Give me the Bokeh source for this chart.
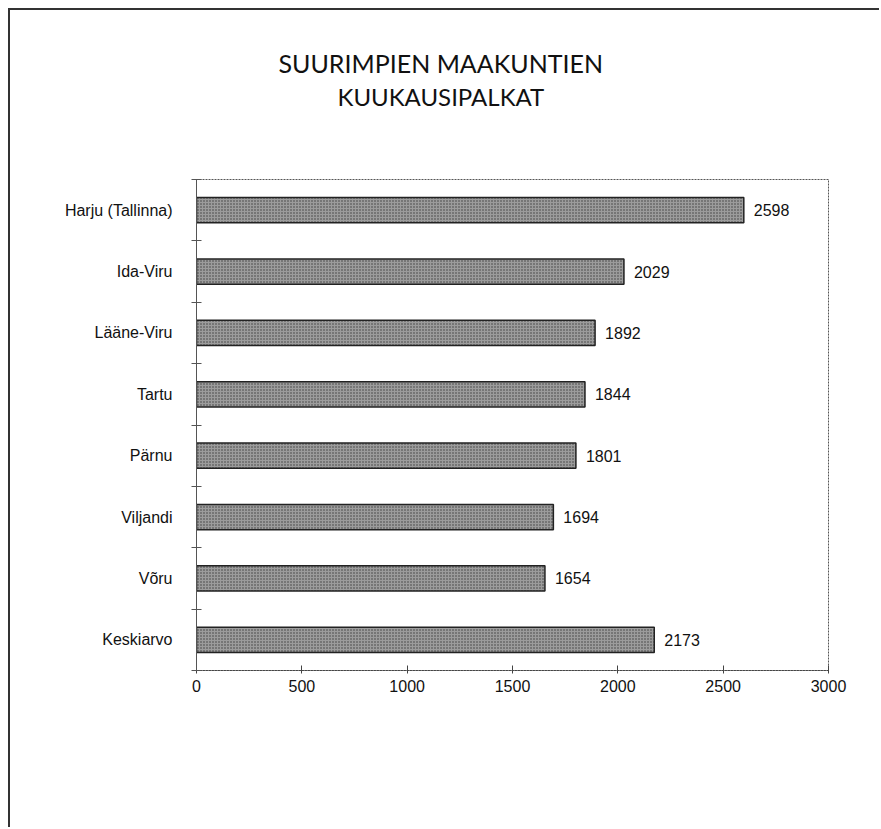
from bokeh.plotting import figure
from bokeh.models import Range1d, FixedTicker, Title
from bokeh.core.properties import value
from bokeh.embed import file_html
from bokeh.resources import INLINE

# Data
regions = ["Harju (Tallinna)", "Ida-Viru", "Lääne-Viru", "Tartu", "Pärnu", "Viljandi", "Võru", "Keskiarvo"]
wages = [2598, 2029, 1892, 1844, 1801, 1694, 1654, 2173]
x_ticks = [0, 500, 1000, 1500, 2000, 2500, 3000]
title_lines = ["SUURIMPIEN MAAKUNTIEN", "KUUKAUSIPALKAT"]

n = len(regions)
pos = list(range(1, n + 1))
bounds = [i + 0.5 for i in range(0, n + 1)]

p = figure(width=871, height=819, output_backend="svg", toolbar_location=None,
           x_range=Range1d(0, 3000), y_range=Range1d(n + 0.5, 0.5),
           min_border_left=186, min_border_right=53, min_border_top=169, min_border_bottom=159)
p.styles = {"border-left": "2px solid #333", "border-top": "2px solid #333",
            "margin-left": "8px", "margin-top": "8px"}
p.background_fill_color = "white"
p.border_fill_color = "white"
p.grid.visible = False
p.outline_line_color = "#555"
p.outline_line_dash = "2 1"
p.outline_line_width = 1

p.hbar(y=pos, left=0, right=wages, height=0.41, fill_color="#9c9c9c",
       hatch_pattern="dot", hatch_color="#3a3a3a", hatch_scale=3, hatch_alpha=1.0,
       line_color="#222", line_width=1.5)

p.text(x=wages, y=pos, text=[str(v) for v in wages], x_offset=10,
       text_baseline="middle", text_align="left",
       text_font=value("Liberation Sans"), text_font_size="16px", text_color="#111")

# x axis
xa = p.xaxis[0]
xa.ticker = FixedTicker(ticks=x_ticks)
xa.major_tick_in = 5
xa.major_tick_out = 3
xa.minor_tick_line_color = None
xa.axis_line_color = "#444"
xa.axis_line_dash = "2 1"
xa.major_tick_line_color = "#444"
xa.major_label_text_font = "Liberation Sans"
xa.major_label_text_font_size = "16px"
xa.major_label_text_color = "#111"
xa.major_label_standoff = 6

# y axis
ya = p.yaxis[0]
ya.ticker = FixedTicker(ticks=pos, minor_ticks=bounds)
ya.major_label_overrides = {pos[i]: regions[i] for i in range(n)}
ya.major_tick_line_color = None
ya.minor_tick_in = 5
ya.minor_tick_out = 5
ya.minor_tick_line_color = "#555"
ya.axis_line_color = "#555"
ya.major_label_text_font = "Liberation Sans"
ya.major_label_text_font_size = "16px"
ya.major_label_text_color = "#111"
ya.major_label_standoff = 18

# spacer between frame and title block
p.add_layout(Title(text=" ", text_font_size="2px", standoff=64), "above")
# Title lines (second line added first so it sits nearer the frame)
for txt, off, fs in zip(reversed(title_lines), [141, 82], ["24px", "25px"]):
    p.add_layout(Title(text=txt, align="left", offset=off, standoff=2,
                       text_font="Lato", text_font_size=fs,
                       text_font_style="normal", text_color="#111"), "above")

open("out.html", "w").write(file_html(p, INLINE))
